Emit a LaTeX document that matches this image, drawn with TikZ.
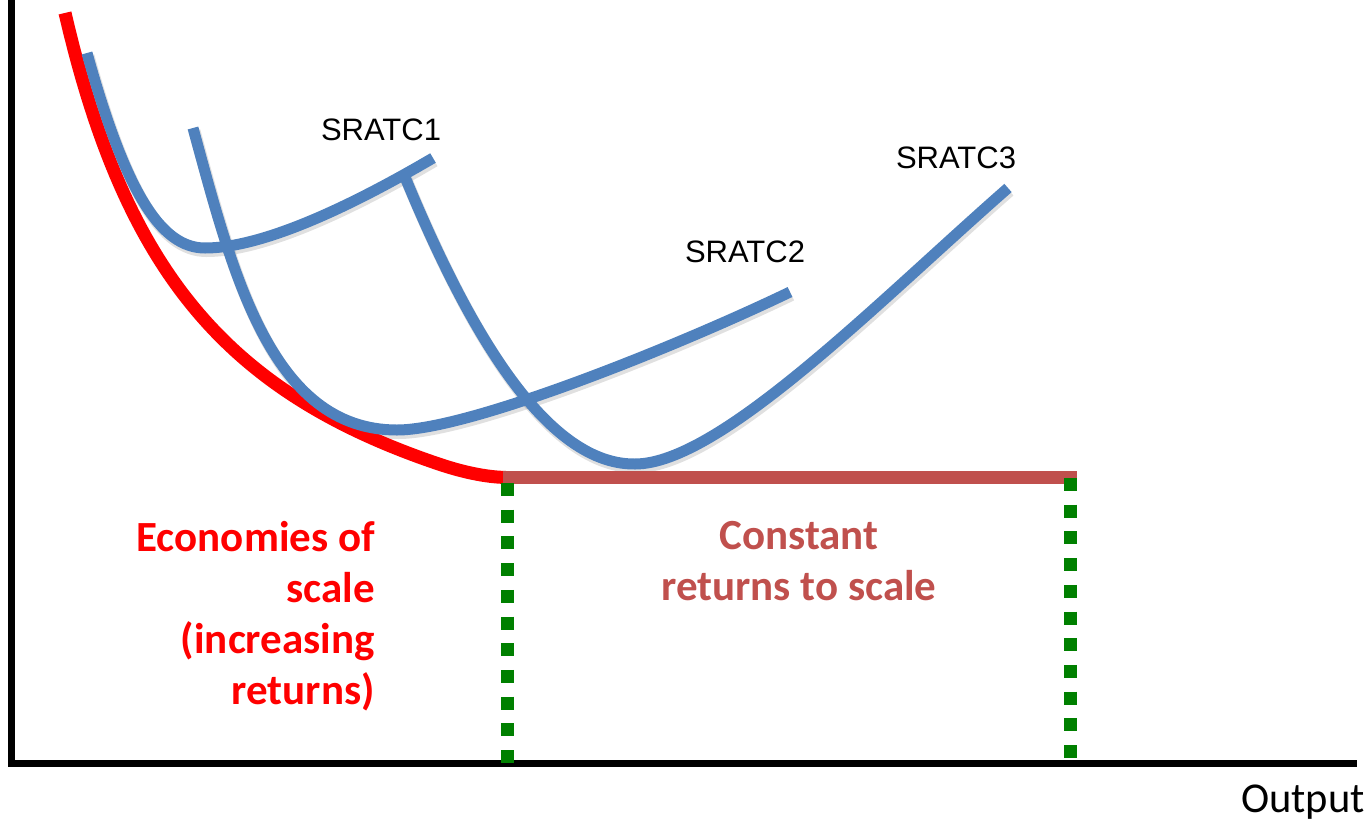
\documentclass[tikz,border=0pt]{standalone}
\usepackage{fontspec}
\setmainfont{Carlito}
\newfontfamily\arialfont{Liberation Sans}
\begin{document}
\definecolor{srblue}{HTML}{4F81BD}
\definecolor{crsbrown}{HTML}{C0504D}
\definecolor{ecored}{HTML}{FF0000}
\definecolor{dotgreen}{HTML}{008000}
\begin{tikzpicture}[x=1pt,y=-1pt,
  axis/.style={line width=7pt,black},
  lratc/.style={line width=13pt,ecored},
  sratc/.style={line width=11pt,srblue},
  sshadow/.style={line width=12pt,black,opacity=0.12,shift={(1.5,3)}},
  flat/.style={line width=13pt,crsbrown},
  bound/.style={line width=13pt,dotgreen,dash pattern=on 13pt off 13.7pt},
  curvelabel/.style={font=\arialfont\fontsize{31}{36}\selectfont,inner sep=0pt},
  zonelabel/.style={font=\bfseries\fontsize{43}{51}\selectfont,inner sep=0pt},
  axislabel/.style={font=\fontsize{42.5}{48}\selectfont,inner sep=0pt}]
\useasboundingbox (0,0) rectangle (1368,822);

% the three short-run curves as reusable paths
\def\srone{(87,53) .. controls (125,190) and (160,248) .. (205,248)
  .. controls (270,248) and (370,195) .. (433,158)}
\def\srtwo{(193,128) .. controls (232,270) and (270,430) .. (397,430)
  .. controls (470,430) and (680,345) .. (790,292)}
\def\srthree{(405,177) .. controls (460,310) and (540,465) .. (635,464)
  .. controls (720,464) and (880,300) .. (1008,188)}

% axes
\draw[axis] (11.5,0) -- (11.5,763) -- (1357,763);

% soft shadows under the short-run curves
\draw[sshadow] \srone;
\draw[sshadow] \srtwo;
\draw[sshadow] \srthree;

% long-run curve: falling part, then the flat part
\draw[lratc] plot[domain=65:440,samples=90] (\x,{639-907.77/((\x+80)/100)})
  .. controls (462,471.8) and (485,477) .. (506,477.5);
\draw[flat] (503,477.5) -- (1077,477.5);

% short-run curves
\draw[sratc] \srone;
\draw[sratc] \srtwo;
\draw[sratc] \srthree;

% boundaries of the constant-returns range
\draw[bound] (507,483) -- (507,763);
\draw[bound] (1070,478) -- (1070,763);

% labels
\node[curvelabel] (l1) at (381,130) {SRATC1};
\node[curvelabel] (l2) at (745,252) {SRATC2};
\node[curvelabel] (l3) at (956,158) {SRATC3};
\node[zonelabel,text=ecored,align=right,anchor=north east] (eco) at (375,521) {Economies of\\scale\\(increasing\\returns)};
\node[zonelabel,text=crsbrown,align=center,anchor=north] (crs) at (799,521) {Constant\\returns to scale};
\node[axislabel,anchor=east] (out) at (1365,802) {Output};
\end{tikzpicture}
\end{document}
